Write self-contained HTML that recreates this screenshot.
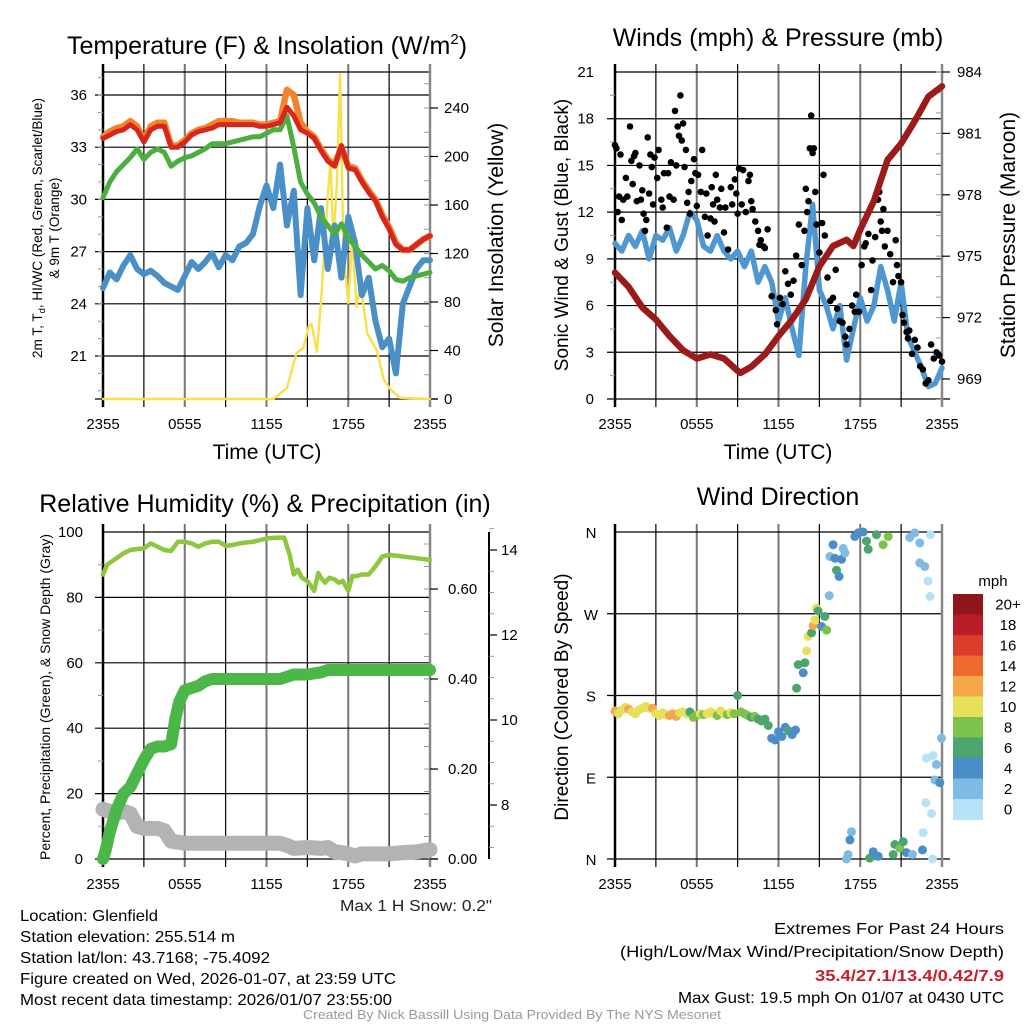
<!DOCTYPE html>
<html><head><meta charset="utf-8"><title>Glenfield Meteogram</title>
<style>
html,body{margin:0;padding:0;background:#fff;}
svg{display:block;font-family:"Liberation Sans",Arial,sans-serif;}
</style></head>
<body>
<svg id="fig" xmlns="http://www.w3.org/2000/svg" width="1024" height="1024" viewBox="0 0 1024 1024">
<rect x="0" y="0" width="1024" height="1024" fill="#fff"/>
<text x="267" y="54" font-size="25" text-anchor="middle">Temperature (F) &amp; Insolation (W/m<tspan font-size="15" dy="-10">2</tspan><tspan dy="10">)</tspan></text>
<text x="778" y="46" font-size="25" text-anchor="middle">Winds (mph) &amp; Pressure (mb)</text>
<text x="265" y="512" font-size="25" text-anchor="middle">Relative Humidity (%) &amp; Precipitation (in)</text>
<text x="778" y="505" font-size="25" text-anchor="middle">Wind Direction</text>
<g font-size="13.5" text-anchor="middle">
<text transform="translate(42,228) rotate(-90)">2m T, T<tspan font-size="9.5" dy="3">d</tspan><tspan dy="-3">, HI/WC (Red, Green, Scarlet/Blue)</tspan></text>
<text transform="translate(59,228) rotate(-90)">&amp; 9m T (Orange)</text>
</g>
<text transform="translate(503,235) rotate(-90)" font-size="21" text-anchor="middle">Solar Insolation (Yellow)</text>
<text transform="translate(568,235) rotate(-90)" font-size="19" text-anchor="middle">Sonic Wind &amp; Gust (Blue, Black)</text>
<text transform="translate(1015,235) rotate(-90)" font-size="21" text-anchor="middle">Station Pressure (Maroon)</text>
<text transform="translate(50,697) rotate(-90)" font-size="14" text-anchor="middle">Percent, Precipitation (Green), &amp; Snow Depth (Gray)</text>
<text transform="translate(568,697) rotate(-90)" font-size="19" text-anchor="middle">Direction (Colored By Speed)</text>
<text x="267" y="459" font-size="21" text-anchor="middle">Time (UTC)</text>
<text x="778" y="459" font-size="21" text-anchor="middle">Time (UTC)</text>
<text x="340" y="911" font-size="15.5" textLength="152" lengthAdjust="spacingAndGlyphs" fill="#222">Max 1 H Snow: 0.2"</text>
<text x="993" y="586" font-size="15" text-anchor="middle">mph</text>
<g font-size="16" lengthAdjust="spacingAndGlyphs">
<text x="20" y="921" textLength="138" lengthAdjust="spacingAndGlyphs">Location: Glenfield</text>
<text x="20" y="942" textLength="215" lengthAdjust="spacingAndGlyphs">Station elevation: 255.514 m</text>
<text x="20" y="963" textLength="250" lengthAdjust="spacingAndGlyphs">Station lat/lon: 43.7168; -75.4092</text>
<text x="20" y="984" textLength="376" lengthAdjust="spacingAndGlyphs">Figure created on Wed, 2026-01-07, at 23:59 UTC</text>
<text x="20" y="1005" textLength="372" lengthAdjust="spacingAndGlyphs">Most recent data timestamp: 2026/01/07 23:55:00</text>
</g>
<g font-size="16">
<text x="774" y="934" textLength="230" lengthAdjust="spacingAndGlyphs">Extremes For Past 24 Hours</text>
<text x="620" y="957" textLength="384" lengthAdjust="spacingAndGlyphs">(High/Low/Max Wind/Precipitation/Snow Depth)</text>
<text x="815" y="981" textLength="189" lengthAdjust="spacingAndGlyphs" fill="#c8202a" font-weight="bold">35.4/27.1/13.4/0.42/7.9</text>
<text x="678" y="1003" textLength="326" lengthAdjust="spacingAndGlyphs">Max Gust: 19.5 mph On 01/07 at 0430 UTC</text>
</g>
<text x="303" y="1019" font-size="13" textLength="418" lengthAdjust="spacingAndGlyphs" fill="#999">Created By Nick Bassill Using Data Provided By The NYS Mesonet</text>
</svg>
<script>
// ---------- DATA ----------
const tHours=[0,0.5,1,1.5,2,2.5,3,3.5,4,4.5,5,5.5,6,6.5,7,7.5,8,8.5,9,9.5,10,10.5,11,11.5,12,12.5,13,13.5,14,14.5,15,15.5,16,16.5,17,17.5,18,18.5,19,19.5,20,20.5,21,21.5,22,22.5,23,23.5,24];
const tempRed=[33.5,33.7,33.9,34.0,34.3,34.0,33.3,34.0,34.2,34.2,33.0,33.0,33.3,33.7,33.9,34.0,34.1,34.3,34.3,34.3,34.3,34.3,34.3,34.2,34.2,34.3,34.4,35.3,34.8,34.0,33.8,33.5,32.8,32.2,31.9,33.1,31.8,31.7,31.0,30.4,29.9,29.0,28.3,27.4,27.1,27.1,27.4,27.7,27.9];
const temp9m=[33.6,33.9,34.1,34.2,34.5,34.2,33.4,34.2,34.4,34.4,33.1,33.1,33.4,33.8,34.0,34.1,34.3,34.5,34.5,34.5,34.4,34.4,34.4,34.3,34.3,34.4,34.5,36.3,36.0,34.4,33.9,33.6,32.9,32.3,32.0,33.0,31.9,31.8,31.1,30.5,30.0,29.1,28.4,27.5,27.1,27.1,27.4,27.7,27.9];
const dewGreen=[30.1,31.0,31.6,32.0,32.4,32.9,32.3,32.7,32.9,32.7,31.9,32.2,32.4,32.5,32.7,32.9,33.2,33.2,33.2,33.3,33.4,33.5,33.6,33.6,33.8,34.0,34.0,34.8,33.0,31.0,30.3,29.8,29.0,28.5,28.0,28.6,27.8,27.3,26.8,26.4,26.0,26.2,25.9,25.4,25.3,25.5,25.6,25.7,25.8];
const chillBlue=[24.9,25.8,25.4,26.2,26.8,26.0,25.7,25.9,25.6,25.2,25.0,24.8,25.6,26.4,26.0,26.4,26.9,26.1,26.8,26.5,27.3,27.5,28.0,29.6,30.8,29.5,32.0,28.5,30.5,24.5,29.5,26.5,29.5,26.0,28.5,25.5,29.0,27.5,24.5,25.5,23.0,21.5,22.0,20.0,24.0,25.0,26.0,26.5,26.5];
const solarHours=[0,12.5,13.5,14.2,14.7,15.1,15.3,15.7,16.0,16.4,16.7,16.9,17.15,17.4,17.65,18.0,18.3,18.6,18.9,19.4,20.1,20.6,21.1,21.8,24];
const solarVals=[0,0,9,38,42,60,62,39,80,150,198,131,175,268,120,79,134,76,95,54,40,16,8,1,0];
const tempTicks=[21,24,27,30,33,36];
const solarTicks=[0,40,80,120,160,200,240];
const timeTicks=[0,6,12,18,24];
const timeLabels=["2355","0555","1155","1755","2355"];

const windVals=[10,9.5,10.5,9.8,10.8,9,10.5,10.2,11,9.5,10.5,12,11.5,9.8,9.5,10.5,9.5,9,9.5,8.5,9.5,7.5,8.5,7.5,5.0,6.5,4.5,2.8,8.5,12.5,7.0,6.0,4.5,6.0,2.5,4.5,6.5,5.0,6.0,8.5,7.0,5.0,7.5,4.0,3.0,2.0,0.8,1.0,2.0];
const gustHours=[0,0.1,0.2,0.3,0.4,0.5,0.6,0.8,0.9,1.1,1.2,1.3,1.4,1.5,1.6,1.8,1.9,2.0,2.1,2.2,2.3,2.4,2.5,2.6,2.7,2.8,2.9,3.1,3.2,3.4,3.5,3.6,3.8,3.9,4.0,4.1,4.3,4.4,4.5,4.6,4.7,4.8,4.9,5.0,5.1,5.2,5.3,5.4,5.5,5.6,5.8,5.9,6.0,6.1,6.3,6.4,6.6,6.7,6.8,7.0,7.1,7.2,7.3,7.4,7.5,7.7,7.8,8.0,8.1,8.3,8.5,8.6,8.8,8.9,9.0,9.1,9.3,9.4,9.6,9.8,9.9,10.0,10.1,10.3,10.5,10.6,10.7,10.9,11.0,11.2,11.5,11.8,11.9,12.1,12.3,12.5,12.7,12.9,13.1,13.3,13.5,13.7,13.9,14.0,14.1,14.2,14.3,14.4,14.5,14.6,14.7,14.8,15.0,15.2,15.3,15.4,15.6,15.8,16.0,16.2,16.3,16.5,16.7,16.9,17.0,17.2,17.4,17.6,17.7,17.9,18.1,18.3,18.4,18.6,18.8,18.9,19.1,19.3,19.4,19.5,19.6,19.7,19.8,20.0,20.2,20.4,20.6,20.7,20.8,21.0,21.1,21.2,21.4,21.5,21.6,21.8,22.0,22.2,22.4,22.6,22.8,23.0,23.2,23.4,23.6,23.8,24.0];
const gustVals=[16.3,16.1,12,13,15.7,11.5,12.8,14.2,13,17.5,15.3,13.8,15.6,15.8,12.7,15,12.8,13.4,11.9,10.8,11.5,16.8,13.2,15.7,14.9,12.5,15.5,14.2,16.0,12.8,12.3,14.5,11,14.5,13,15.2,12.8,18.5,15,17.5,16.9,19.5,16.6,17.7,14.9,16,12.6,13.3,11.9,14,15.4,14.5,12.4,14.4,13.3,16.0,11.7,13.2,10.5,11.6,13.6,12.5,11.4,14.4,12.8,12.3,13.5,10.7,12.3,9.6,13.6,12.5,14.1,13.2,11.9,14.8,12.5,14.7,12,14.0,14.4,12.7,12.2,11.4,10.8,9.9,10.2,9.8,9.7,10.9,6.6,5.7,4.8,6.5,6.1,8.2,7.4,6.7,7.6,9.2,11.2,8.6,10.8,13.5,12,12.7,16.1,18.2,15.8,16.1,13.3,11.2,9.4,11.3,14.4,10.5,7.8,6.3,6.5,8.3,5.8,5.0,4.9,4.0,3.5,4.5,6.0,5.6,6.7,5.6,8.6,9.8,10.0,10.6,7.0,8.9,10.4,12.8,13.3,11.4,10.8,12.2,9.8,10.8,9.3,7.5,10.2,8.6,7.9,7.5,5.4,4.9,4.3,3.9,4.4,2.9,3.8,3.3,2.1,1.9,1.0,1.2,3.5,2.6,3.0,2.8,2.4];
const presHours=[0,1,2,3,4,5,6,7,8,9,9.2,10,11,12,13,14,15,16,17,17.5,18,19,20,21,22,23,24];
const presVals=[974.2,973.5,972.5,971.9,971.1,970.4,970.0,970.2,970.0,969.4,969.3,969.6,970.2,971.1,971.9,972.9,974.5,975.5,975.8,975.5,976.3,977.7,979.7,980.5,981.6,982.8,983.3];
const windTicks=[0,3,6,9,12,15,18,21];
const presTicks=[969,972,975,978,981,984];

const rhHours=[0,0.3,1,1.5,2,2.5,3,3.5,4,4.5,5,5.5,6,6.5,7,7.5,8,8.5,9,9.5,10,10.5,11,11.5,12,12.5,13,13.3,13.7,14,14.3,14.6,15,15.5,15.8,16,16.3,16.6,17,17.3,17.6,18,18.3,18.6,19,19.5,20,20.5,21,22,23,24];
const rhVals=[87,90,92,93.5,94.5,94.8,95,96.5,95.5,94.5,94.2,97,97,96.5,95.5,96.5,97,97,95.8,96,96.5,96.8,97,97.5,98,98.2,98.3,98.3,93,87,88.5,86,85,82,87.5,86,84.5,86,85.5,84.5,85,82,86.5,86.5,87,87,89.5,92.5,93,92.5,92,91.5];
const precipHours=[0,0.2,0.5,1,1.5,2,2.5,3,3.5,4,4.5,5,5.3,5.6,6,6.5,7,7.5,8,13,13.5,14,15,16,16.5,17,24];
const precipVals=[0,0.02,0.06,0.11,0.145,0.16,0.19,0.22,0.245,0.25,0.25,0.255,0.31,0.35,0.375,0.38,0.385,0.395,0.40,0.40,0.405,0.41,0.41,0.415,0.42,0.42,0.42];
const snowHours=[0,1,1.5,2,2.5,3,4,4.5,5,6,13,13.5,14,15,16,16.5,17,17.5,18,18.5,19,20,21,22,23,24];
const snowVals=[7.9,7.8,7.85,7.8,7.5,7.45,7.45,7.4,7.15,7.1,7.1,7.05,6.98,7.0,6.98,7.0,6.9,6.88,6.85,6.8,6.85,6.85,6.85,6.88,6.9,6.95];
const pctTicks=[0,20,40,60,80,100];
const precipTicks=[0,0.2,0.4,0.6];
const precipLabels=["0.00","0.20","0.40","0.60"];
const snowTicks=[8,10,12,14];

const dirHours=[0,0.25,0.5,0.75,1,1.25,1.5,1.75,2,2.25,2.5,2.75,3,3.25,3.5,3.75,4,4.25,4.5,4.75,5,5.25,5.5,5.75,6,6.25,6.5,6.75,7,7.25,7.5,7.75,8,8.25,8.5,8.75,9,9.25,9.5,9.75,10,10.25,10.5,10.75,11,11.25,11.5,11.75,12,12.25,12.5,12.75,13,13.25,13.33,13.45,13.81,13.94,14.06,14.18,14.43,14.55,14.67,14.79,14.91,15.16,15.40,15.53,15.72,15.77,16.01,16.14,16.26,16.45,16.63,16.75,16.87,17.60,17.85,18.22,18.46,18.58,19.19,19.68,20.05,21.64,22.00,22.37,22.37,22.74,22.98,23.11,23.15,17.36,17.24,17.11,16.99,18.70,18.95,19.32,20.42,20.54,20.90,21.15,21.39,21.83,22.57,22.62,22.81,23.23,23.30,22.86,23.35,23.59,23.47,23.84,23.96];
const dirVals=[163,160,164,167,165,162,160,164,166,168,166,166,160,158,161,159,158,160,157,161,162,160,162,156,158,160,159,160,162,160,158,163,160,159,161,160,180,162,160,158,156,157,154,152,154,147,133,131,140,135,145,141,137,142,188,214,205,216,229,245,249,257,263,276,273,256,267,252,290,333,346,331,318,311,330,342,337,355,359,360,350,341,357,346,355,354,359,348,326,322,306,289,357,30,21,5,0,1,8,3,5,16,12,19,7,5,10,29,62,50,0,111,114,104,87,84,133];
const dirSpeeds=[12,10,11,10,12,10,11,10,11,10,10,12,11,10,10,11,12,13,12,10,11,10,7,9,8,10,9,10,10,11,8,10,10,9,10,9,7,8,9,8,7,8,7,6,7,7,4,4,5,4,5,6,4,5,6,6,4,7,10,10,7,13,10,11,7,4,6,8,3,3,4,4,6,4,4,3,3,4,4,4,6,6,6,9,8,2,2,2,3,2,1,1,1,3,4,3,2,6,4,4,6,6,9,6,4,3,4,1,1,1,1,1,1,2,3,4,3];
const dirTicks=[0,90,180,270,360];
const dirLabels=["N","E","S","W","N"];
const speedBins=["0","2","4","6","8","10","12","14","16","18","20+"];
const speedColors=["#b5e2f6","#7fbbe4","#4a8fc7","#4ca56e","#7dc24b","#e6e05a","#f6a747","#ee6a2e","#db3a2c","#ba1c27","#8f171b"];

// ---------- DRAWING ----------
const NS="http://www.w3.org/2000/svg";
const svg=document.getElementById("fig");
function el(tag,attrs,name,parent){
  const e=document.createElementNS(NS,tag);
  for(const k in attrs) e.setAttribute(k,attrs[k]);
  
  
  (parent||svg).appendChild(e);
  return e;
}
function txt(x,y,s,size,anchor,name,parent){
  const t=el("text",{x:x,y:y,"font-size":size,"text-anchor":anchor},name,parent);
  t.textContent=s;
  return t;
}
const PW=327;
function xs(x0){return h=>x0+h/24*PW;}
function lin(d0,d1,p0,p1){return v=>p0+(v-d0)/(d1-d0)*(p1-p0);}
function poly(hs,vs,X,Y,color,w,name,g){
  const pts=hs.map((h,i)=>X(h).toFixed(1)+","+Y(vs[i]).toFixed(1)).join(" ");
  el("polyline",{points:pts,fill:"none",stroke:color,"stroke-width":w,"stroke-linejoin":"round","stroke-linecap":"round"},name,g);
}
function frame(x0,y0,y1,hLines,name){
  const g=el("g",{},name+"-grid");
  const X=xs(x0);
  for(let h=0;h<=24;h+=3){
    const major=(h%6===0);
    el("line",{x1:X(h),x2:X(h),y1:y0-8,y2:y1+8,stroke:major?"#777":"#000","stroke-width":major?2:1.2},name+"-vgrid",g);
  }
  hLines.forEach(y=>{
    el("line",{x1:x0-8,x2:x0+PW,y1:y,y2:y,stroke:"#000","stroke-width":1.2},name+"-hgrid",g);
  });
  el("line",{x1:x0,x2:x0+PW,y1:y0,y2:y0,stroke:"#000","stroke-width":1.2},name+"-top-border",g);
  el("line",{x1:x0-8,x2:x0+PW+8,y1:y1,y2:y1,stroke:"#000","stroke-width":1.2},name+"-bottom-border",g);
  el("line",{x1:x0,x2:x0,y1:y0-8,y2:y1+8,stroke:"#000","stroke-width":2.5},name+"-left-axis",g);
  el("line",{x1:x0+PW,x2:x0+PW,y1:y0-8,y2:y1+8,stroke:"#888","stroke-width":2.5},name+"-right-axis",g);
  return g;
}
function xLabels(x0,y,name){
  const X=xs(x0);
  timeTicks.forEach((h,i)=>txt(X(h),y,timeLabels[i],15,"middle",name+"-x-tick-label"));
}
function minorTicks(Y,from,to,step,x,len,g,name){
  for(let v=from;v<=to+1e-9;v+=step){
    el("line",{x1:x,x2:x+len,y1:Y(v),y2:Y(v),stroke:"#999","stroke-width":1},name,g);
  }
}

// Panel 1: temperature
(function(){
  const x0=103,y0=72,y1=399;
  const X=xs(x0);
  const Y=lin(21,36,356,95);
  const S=lin(0,240,399,108);
  const g=frame(x0,y0,y1,tempTicks.map(Y),"temp");
  minorTicks(Y,19,37,1,x0-5,5,g,"temp-minor-tick");
  minorTicks(S,0,260,20,x0+PW-6,6,g,"solar-minor-tick");
  tempTicks.forEach(v=>txt(x0-16,Y(v)+5,String(v),15,"end","temp-y-tick-label"));
  solarTicks.forEach(v=>{
    el("line",{x1:x0+PW,x2:x0+PW+8,y1:S(v),y2:S(v),stroke:"#000","stroke-width":1.2},"solar-tick",g);
    txt(x0+PW+14,S(v)+5,String(v),15,"start","solar-y-tick-label");
  });
  xLabels(x0,429,"temp");
  const s=el("g",{},"temp-series");
  poly(solarHours,solarVals,X,S,"#f9df4a",2.4,"solar-line",s);
  poly(tHours,chillBlue,X,Y,"#4a90c8",6,"windchill-line",s);
  poly(tHours,dewGreen,X,Y,"#4cae3f",5,"dewpoint-line",s);
  poly(tHours,temp9m,X,Y,"#f4842c",6.5,"temp-9m-line",s);
  poly(tHours,tempRed,X,Y,"#d7261e",5,"temp-2m-line",s);
})();

// Panel 2: winds
(function(){
  const x0=615,y0=72,y1=399;
  const X=xs(x0);
  const Y=lin(0,21,399,72);
  const P=lin(969,984,379,72);
  const g=frame(x0,y0,y1,windTicks.slice(1,-1).map(Y),"wind");
  minorTicks(Y,1.5,19.5,3,x0-5,5,g,"wind-minor-tick");
  minorTicks(P,968,984,1,x0+PW-6,6,g,"pressure-minor-tick");
  windTicks.forEach(v=>txt(x0-21,Y(v)+5,String(v),15,"end","wind-y-tick-label"));
  presTicks.forEach(v=>{
    el("line",{x1:x0+PW,x2:x0+PW+8,y1:P(v),y2:P(v),stroke:"#000","stroke-width":1.2},"pressure-tick",g);
    txt(x0+PW+15,P(v)+5,String(v),15,"start","pressure-y-tick-label");
  });
  xLabels(x0,429,"wind");
  const s=el("g",{},"wind-series");
  poly(tHours,windVals,X,Y,"#4f97d0",5.5,"sonic-wind-line",s);
  gustHours.forEach((h,i)=>{
    el("circle",{cx:X(h).toFixed(1),cy:Y(gustVals[i]).toFixed(1),r:3.3,fill:"#000"},"gust-point",s);
  });
  poly(presHours,presVals,X,P,"#9b1b1b",6.5,"pressure-line",s);
})();

// Panel 3: humidity / precip / snow
(function(){
  const x0=103,y0=532,y1=859;
  const X=xs(x0);
  const Y=lin(0,100,859,532);
  const R=lin(0,0.6,859,589);
  const N=lin(8,14,805,550);
  const g=frame(x0,y0,y1,pctTicks.slice(1,-1).map(Y),"rh");
  minorTicks(Y,10,90,20,x0-5,5,g,"rh-minor-tick");
  minorTicks(R,0.05,0.7,0.05,x0+PW-6,6,g,"precip-minor-tick");
  pctTicks.forEach(v=>txt(x0-20,Y(v)+5,String(v),15,"end","rh-y-tick-label"));
  precipTicks.forEach((v,i)=>{
    el("line",{x1:x0+PW,x2:x0+PW+8,y1:R(v),y2:R(v),stroke:"#000","stroke-width":1.2},"precip-tick",g);
    txt(x0+PW+18,R(v)+5,precipLabels[i],15,"start","precip-y-tick-label");
  });
  const sx=489;
  el("line",{x1:sx,x2:sx,y1:y0,y2:y1,stroke:"#000","stroke-width":2},"snow-axis",g);
  minorTicks(N,7,14.5,0.5,sx,5,g,"snow-minor-tick");
  snowTicks.forEach(v=>{
    el("line",{x1:sx,x2:sx+8,y1:N(v),y2:N(v),stroke:"#000","stroke-width":1.2},"snow-tick",g);
    txt(sx+12,N(v)+5,String(v),15,"start","snow-y-tick-label");
  });
  xLabels(x0,889,"rh");
  const s=el("g",{},"rh-series");
  poly(snowHours,snowVals,X,N,"#b3b3b3",15,"snow-depth-line",s);
  poly(precipHours,precipVals,X,R,"#4bb748",12,"precip-line",s);
  poly(rhHours,rhVals,X,Y,"#8dc63f",4.5,"rh-line",s);
})();

// Panel 4: wind direction
(function(){
  const x0=615,y0=532,y1=859;
  const X=xs(x0);
  const Y=lin(0,360,859,532);
  frame(x0,y0,y1,dirTicks.slice(1,-1).map(Y),"dir");
  dirTicks.forEach((v,i)=>txt(x0-24,Y(v)+6,dirLabels[i],15,"middle","dir-y-tick-label"));
  xLabels(x0,889,"dir");
  const s=el("g",{},"dir-points");
  dirHours.forEach((h,i)=>{
    const b=Math.min(speedColors.length-1,Math.floor(dirSpeeds[i]/2));
    el("circle",{cx:X(h).toFixed(1),cy:Y(dirVals[i]).toFixed(1),r:4.5,fill:speedColors[b]},"direction-point",s);
  });
  const cb=el("g",{},"speed-colorbar");
  const top=594,bh=20.5;
  for(let i=0;i<speedBins.length;i++){
    const idx=speedBins.length-1-i;
    el("rect",{x:953,y:(top+i*bh).toFixed(1),width:30,height:bh+0.5,fill:speedColors[idx]},"colorbar-swatch",cb);
    txt(1008,top+i*bh+bh/2+5,speedBins[idx],15,"middle","colorbar-label",cb);
  }
})();
</script>
</body></html>
